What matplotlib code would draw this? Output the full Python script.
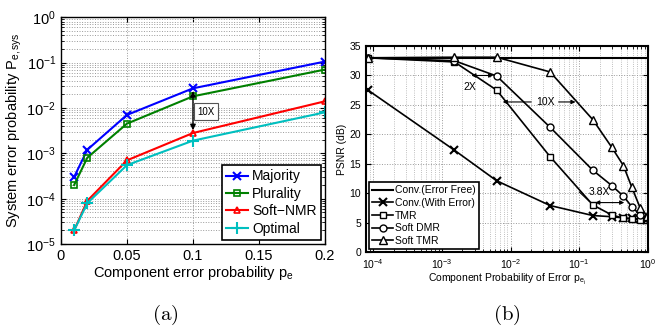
import numpy as np
import matplotlib
matplotlib.use('Agg')
import matplotlib.pyplot as plt

plt.rcParams['font.family'] = ['Liberation Sans', 'DejaVu Sans']
plt.rcParams['mathtext.fontset'] = 'custom'
plt.rcParams['mathtext.rm'] = 'Liberation Sans'
plt.rcParams['mathtext.it'] = 'Liberation Sans:italic'
plt.rcParams['mathtext.default'] = 'regular'

# ---- panel (a) data ----
pe_a = [0.01, 0.02, 0.05, 0.1, 0.2]
majority = [3e-4, 1.2e-3, 7e-3, 2.7e-2, 1.05e-1]
plurality = [2e-4, 8e-4, 4.5e-3, 1.8e-2, 7e-2]
soft_nmr = [2e-5, 9e-5, 7e-4, 2.8e-3, 1.4e-2]
optimal = [2e-5, 8e-5, 5.5e-4, 1.9e-3, 8e-3]
xticks_a = [0, 0.05, 0.1, 0.15, 0.2]
xticklabels_a = ['0', '0.05', '0.1', '0.15', '0.2']

# ---- panel (b) data ----
pe_b = [8.5e-5, 1.53e-3, 6.3e-3, 3.76e-2, 0.157, 0.296, 0.437, 0.58, 0.766, 0.96]
conv_free = [33] * 10
conv_err = [27.5, 17.3, 12.1, 7.9, 6.2, 6.0, 5.8, 5.7, 5.6, 5.5]
tmr = [33, 32.3, 27.5, 16.2, 8.0, 6.3, 5.75, 5.6, 5.5, 5.5]
soft_dmr = [33, 32.5, 29.9, 21.2, 13.9, 11.3, 9.5, 7.7, 6.3, 5.75]
soft_tmr = [33, 33.1, 33.1, 30.6, 22.5, 17.8, 14.7, 11.0, 7.5, 6.2]

fig = plt.figure(figsize=(6.62, 3.29), dpi=100)

# ================= (a) =================
ax1 = fig.add_axes([0.092, 0.258, 0.399, 0.690])
ax1.semilogy(pe_a, majority, '-x', color='#0000ff', lw=1.5, ms=6, mew=1.5, label='Majority')
ax1.semilogy(pe_a, plurality, '-s', color='#008000', lw=1.5, ms=4, mew=1.2, mfc='none', label='Plurality')
ax1.semilogy(pe_a, soft_nmr, '-^', color='#ff0000', lw=1.5, ms=5, mew=1.2, mfc='none', label='Soft\u2212NMR')
ax1.semilogy(pe_a, optimal, '-+', color='#00bfbf', lw=1.5, ms=8, mew=1.5, label='Optimal')
ax1.set_xlim(0, 0.2)
ax1.set_ylim(1e-5, 1)
ax1.set_xticks(xticks_a)
ax1.set_xticklabels(xticklabels_a)
ax1.grid(True, which='both', linestyle=':', color='#999999', lw=0.7)
ax1.tick_params(labelsize=10.5, direction='in', which='both', top=True, right=True)
ax1.set_xlabel('Component error probability $p_e$', fontsize=10.5, labelpad=1)
ax1.set_ylabel('System error probability $P_{e,sys}$', fontsize=10.5, labelpad=2)
for s in ax1.spines.values():
    s.set_linewidth(1.0)
ax1.annotate('', xy=(0.1, soft_nmr[3]), xytext=(0.1, majority[3]),
             arrowprops=dict(arrowstyle='<|-|>', color='black', lw=1, mutation_scale=8,
                             shrinkA=2, shrinkB=2))
ax1.text(0.110, 8.2e-3, '10X', fontsize=7, ha='center', va='center',
         bbox=dict(boxstyle='square,pad=0.35', fc='white', ec='#555555', lw=0.8))
leg1 = ax1.legend(loc='lower right', fontsize=10, handlelength=1.6, handletextpad=0.3,
                  borderaxespad=0.3, borderpad=0.3, labelspacing=0.25, fancybox=False,
                  framealpha=1, edgecolor='black')
leg1.get_frame().set_linewidth(1.2)

# ================= (b) =================
ax2 = fig.add_axes([0.553, 0.234, 0.426, 0.626])
ax2.semilogx(pe_b, conv_free, '-', color='black', lw=1.5, label='Conv.(Error Free)')
ax2.semilogx(pe_b, conv_err, '-x', color='black', lw=1.2, ms=6, mew=1.5, label='Conv.(With Error)')
ax2.semilogx(pe_b, tmr, '-s', color='black', lw=1.2, ms=5, mew=1.0, mfc='white', label='TMR')
ax2.semilogx(pe_b, soft_dmr, '-o', color='black', lw=1.2, ms=5, mew=1.0, mfc='white', label='Soft DMR')
ax2.semilogx(pe_b, soft_tmr, '-^', color='black', lw=1.2, ms=5.5, mew=1.0, mfc='white', label='Soft TMR')
ax2.set_xlim(10 ** -4.1, 1)
ax2.set_ylim(0, 35)
ax2.set_yticks(np.arange(0, 36, 5))
ax2.grid(True, which='major', linestyle=':', color='#999999', lw=0.7)
ax2.grid(True, which='minor', axis='x', linestyle=':', color='#aaaaaa', lw=0.6)
ax2.tick_params(labelsize=7.5, direction='in', which='both', top=True, right=True)
ax2.set_xlabel('Component Probability of Error $p_{e_i}$', fontsize=7.5, labelpad=1)
ax2.set_ylabel('PSNR (dB)', fontsize=7.5, labelpad=2)
for s in ax2.spines.values():
    s.set_linewidth(1.5)

# annotations
ax2.annotate('', xy=(2.7e-3, 30), xytext=(5.6e-3, 30),
             arrowprops=dict(arrowstyle='<|-|>', color='black', lw=0.8, mutation_scale=6,
                             shrinkA=0, shrinkB=0))
ax2.text(2.6e-3, 28.0, '2X', fontsize=7.5, ha='center', va='center')
ax2.text(3.2e-2, 25.5, '10X', fontsize=7.5, ha='center', va='center')
ax2.annotate('', xy=(7.7e-3, 25.5), xytext=(2.0e-2, 25.5),
             arrowprops=dict(arrowstyle='-|>', color='black', lw=0.8, mutation_scale=6,
                             shrinkA=0, shrinkB=0))
ax2.annotate('', xy=(8.8e-2, 25.5), xytext=(5.0e-2, 25.5),
             arrowprops=dict(arrowstyle='-|>', color='black', lw=0.8, mutation_scale=6,
                             shrinkA=0, shrinkB=0))
ax2.text(0.135, 10.2, '3.8X', fontsize=7.5, ha='left', va='center')
ax2.plot([0.1, 0.14], [10.2, 8.6], color='black', lw=0.8)
ax2.annotate('', xy=(0.17, 8.4), xytext=(0.45, 8.4),
             arrowprops=dict(arrowstyle='<|-|>', color='black', lw=0.8, mutation_scale=6,
                             shrinkA=0, shrinkB=0))

leg2 = ax2.legend(loc='lower left', fontsize=7.5, handlelength=2.0, handletextpad=0.2,
                  borderaxespad=0.3, borderpad=0.3, labelspacing=0.25, fancybox=False,
                  framealpha=1, edgecolor='black')
leg2.get_frame().set_linewidth(1.2)

# captions
fig.text(0.249, 0.043, r'$\mathrm{(a)}$', fontsize=15, ha='center', va='center', math_fontfamily='cm')
fig.text(0.766, 0.043, r'$\mathrm{(b)}$', fontsize=15, ha='center', va='center', math_fontfamily='cm')

fig.savefig('out.png', dpi=100)
